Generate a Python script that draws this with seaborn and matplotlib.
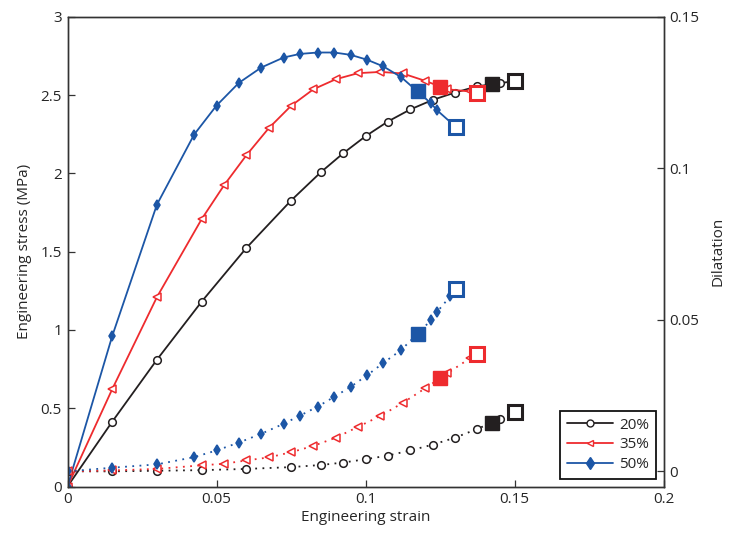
import numpy as np
import pandas as pd
import matplotlib
matplotlib.use("Agg")
import matplotlib.pyplot as plt
import seaborn as sns
from matplotlib.lines import Line2D

# --- datos ---
labels = ["20%", "35%", "50%"]
colores = ["#231f20", "#ee2b2e", "#1c56a6"]
marcadores = ["o", "<", "d"]

# tension (eje izquierdo)
x_20 = [0, 0.015, 0.03, 0.045, 0.06, 0.075, 0.085, 0.0925, 0.1, 0.1075, 0.115, 0.1225, 0.13, 0.1375, 0.145]
s_20 = [0, 0.414, 0.81, 1.181, 1.524, 1.827, 2.008, 2.129, 2.238, 2.332, 2.409, 2.47, 2.517, 2.557, 2.577]
x_35 = [0, 0.015, 0.03, 0.045, 0.0525, 0.06, 0.0675, 0.075, 0.0825, 0.09, 0.0975, 0.105, 0.1125, 0.12, 0.1275, 0.135]
s_35 = [0, 0.622, 1.21, 1.708, 1.924, 2.116, 2.289, 2.432, 2.538, 2.602, 2.641, 2.649, 2.639, 2.592, 2.538, 2.524]
x_50 = [0, 0.015, 0.03, 0.0425, 0.05, 0.0575, 0.065, 0.0725, 0.078, 0.084, 0.0895, 0.095, 0.1005, 0.106, 0.112, 0.122, 0.124]
s_50 = [0, 0.961, 1.801, 2.249, 2.434, 2.579, 2.677, 2.741, 2.764, 2.773, 2.773, 2.758, 2.727, 2.684, 2.615, 2.448, 2.404]

# dilatacion (eje derecho)
xd_20 = x_20
d_20 = [0, 0, 0.0002, 0.0004, 0.0008, 0.0014, 0.0021, 0.0029, 0.004, 0.0052, 0.0069, 0.0088, 0.0111, 0.014, 0.0172]
xd_35 = x_35
d_35 = [0, 0.0003, 0.0008, 0.002, 0.0025, 0.0036, 0.0046, 0.0063, 0.0084, 0.0111, 0.0147, 0.0183, 0.0226, 0.0274, 0.0324, 0.0373]
xd_50 = [0, 0.015, 0.03, 0.0425, 0.05, 0.0575, 0.065, 0.0725, 0.078, 0.084, 0.0895, 0.095, 0.1005, 0.106, 0.112, 0.122, 0.124, 0.1285]
d_50 = [0, 0.0012, 0.0023, 0.0047, 0.0069, 0.0095, 0.0124, 0.0157, 0.0184, 0.0214, 0.0246, 0.0279, 0.0317, 0.0358, 0.0401, 0.0499, 0.0526, 0.0579]

# cuadrados: lleno (punto intermedio) y vacio (final de la curva)
sq_lleno_x = [0.1425, 0.125, 0.1175]
sq_lleno_s = [2.57, 2.555, 2.528]
sq_lleno_d = [0.0161, 0.0309, 0.0453]
sq_vacio_x = [0.15, 0.1375, 0.1302]
sq_vacio_s = [2.59, 2.513, 2.299]
sq_vacio_d = [0.0196, 0.0388, 0.0601]

sns.set_style("ticks")
plt.rcParams["font.family"] = ["Open Sans", "DejaVu Sans"]
plt.rcParams["font.size"] = 11

fig = plt.figure(figsize=(7.29, 5.39), dpi=100)
ax = fig.add_axes([0.0926, 0.0974, 0.8176, 0.8711])
ax2 = ax.twinx()

series = [
    (x_20, s_20, xd_20, d_20),
    (x_35, s_35, xd_35, d_35),
    (x_50, s_50, xd_50, d_50),
]


def curva(eje, xs, ys, x_fin, y_fin, c, m, estilo):
    # la linea llega hasta el cuadrado vacio; los marcadores solo en los puntos medidos
    df = pd.DataFrame({"strain": list(xs) + [x_fin], "val": list(ys) + [y_fin]})
    mfc = c if m == "d" else "white"
    ms = 5.5 if m == "d" else 5.5
    sns.lineplot(data=df, x="strain", y="val", ax=eje, color=c, sort=False,
                 lw=1.3, linestyle=estilo, marker=m, markersize=ms,
                 markerfacecolor=mfc, markeredgecolor=c, markeredgewidth=1.1,
                 markevery=list(range(len(xs))))


for i, (xs, ss, xd, dd) in enumerate(series):
    c = colores[i]
    m = marcadores[i]
    curva(ax, xs, ss, sq_vacio_x[i], sq_vacio_s[i], c, m, "-")
    curva(ax2, xd, dd, sq_vacio_x[i], sq_vacio_d[i], c, m, (0, (1, 3)))
    # cuadrados
    ax.plot([sq_lleno_x[i]], [sq_lleno_s[i]], "s", ms=10.5, color=c, mec=c, zorder=5)
    ax.plot([sq_vacio_x[i]], [sq_vacio_s[i]], "s", ms=10, mfc="white", mec=c, mew=2.2, zorder=5)
    ax2.plot([sq_lleno_x[i]], [sq_lleno_d[i]], "s", ms=10.5, color=c, mec=c, zorder=5)
    ax2.plot([sq_vacio_x[i]], [sq_vacio_d[i]], "s", ms=10, mfc="white", mec=c, mew=2.2, zorder=5)

ax.set_xlim(0, 0.2)
ax.set_ylim(0, 3)
ax2.set_ylim(-0.005, 0.15)
ax.set_xticks([0, 0.05, 0.1, 0.15, 0.2])
ax.set_xticklabels(["0", "0.05", "0.1", "0.15", "0.2"])
ax.set_yticks([0, 0.5, 1, 1.5, 2, 2.5, 3])
ax.set_yticklabels(["0", "0.5", "1", "1.5", "2", "2.5", "3"])
ax2.set_yticks([0, 0.05, 0.1, 0.15])
ax2.set_yticklabels(["0", "0.05", "0.1", "0.15"])

ax.set_xlabel("Engineering strain", fontsize=11, labelpad=2)
ax.set_ylabel("Engineering stress (MPa)", fontsize=11, labelpad=6)
ax2.set_ylabel("Dilatation", fontsize=11, labelpad=8)

for a in (ax, ax2):
    for sp in a.spines.values():
        sp.set_visible(True)
        sp.set_color("#333333")
        sp.set_linewidth(1.0)
    a.tick_params(direction="in", length=5, width=0.9, color="#333333", labelsize=11, pad=4)
ax.tick_params(axis="y", right=False)
ax.tick_params(axis="x", top=False)
ax2.tick_params(axis="y", left=False)

handles = [Line2D([0], [0], color=colores[i], lw=1.3, marker=marcadores[i],
                  markersize=5 if marcadores[i] != "d" else 6,
                  markerfacecolor=colores[i] if marcadores[i] == "d" else "white",
                  markeredgecolor=colores[i]) for i in range(3)]
leg = ax2.legend(handles, labels, loc="lower right", fontsize=11, frameon=True,
                 fancybox=False, edgecolor="#111111", framealpha=1,
                 borderaxespad=0.5, handlelength=3.0, labelspacing=0.3,
                 borderpad=0.45, handletextpad=0.4)
leg.get_frame().set_linewidth(1.3)

fig.savefig("out.png", dpi=100)
